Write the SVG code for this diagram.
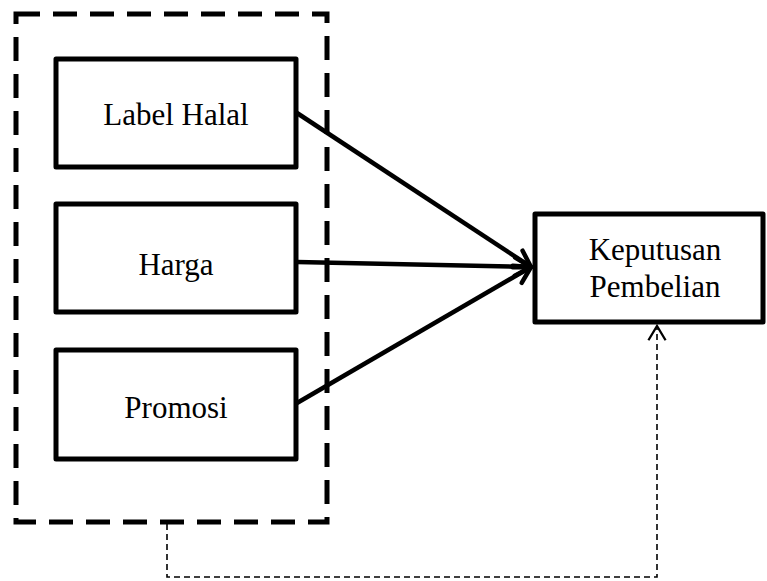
<svg xmlns="http://www.w3.org/2000/svg" width="767" height="581" viewBox="0 0 767 581">
<style>
.box{fill:#fff;stroke:#000;stroke-width:5;stroke-linejoin:round}
.t{font-family:"Liberation Serif","Times New Roman",serif;font-size:31px;fill:#000;text-anchor:middle}
.c{fill:none;stroke:#000;stroke-width:4.5}
.d{fill:none;stroke:#000;stroke-width:1.6;stroke-dasharray:6 4}
.g{fill:none;stroke:#000;stroke-width:5;stroke-dasharray:24 13}
</style>
<defs>
<marker id="ah" markerUnits="userSpaceOnUse" markerWidth="30" markerHeight="30" refX="19" refY="11" orient="auto" viewBox="0 0 30 22">
<path d="M3,2 L19,11 L3,20" fill="none" stroke="#000" stroke-width="4.5" stroke-linecap="round" stroke-linejoin="round"/>
</marker>
<marker id="ah2" markerUnits="userSpaceOnUse" markerWidth="20" markerHeight="20" refX="11" refY="7" orient="auto" viewBox="0 0 14 14">
<path d="M1,1 L11,7 L1,13" fill="none" stroke="#000" stroke-width="1.6"/>
</marker>
</defs>
<g id="group">
<rect x="16" y="14" width="311" height="508" class="g"/>
</g>
<g id="n1"><rect class="box" x="56" y="59" width="240" height="108"/><text class="t" x="176" y="125">Label Halal</text></g>
<g id="n2"><rect class="box" x="56" y="204" width="240" height="108"/><text class="t" x="176" y="275">Harga</text></g>
<g id="n3"><rect class="box" x="56" y="350" width="240" height="109"/><text class="t" x="176" y="418">Promosi</text></g>
<g id="n4"><rect class="box" x="535" y="214" width="228" height="108"/><text class="t" x="655" y="260">Keputusan</text><text class="t" x="655" y="297">Pembelian</text></g>
<g id="connectors">
<line class="c" x1="297" y1="113" x2="531" y2="267" marker-end="url(#ah)"/>
<line class="c" x1="297" y1="262" x2="531" y2="267" marker-end="url(#ah)"/>
<line class="c" x1="297" y1="403" x2="531" y2="267" marker-end="url(#ah)"/>
<polyline class="d" points="167,524 167,577 657,577 657,326" marker-end="url(#ah2)"/>
</g>
</svg>
